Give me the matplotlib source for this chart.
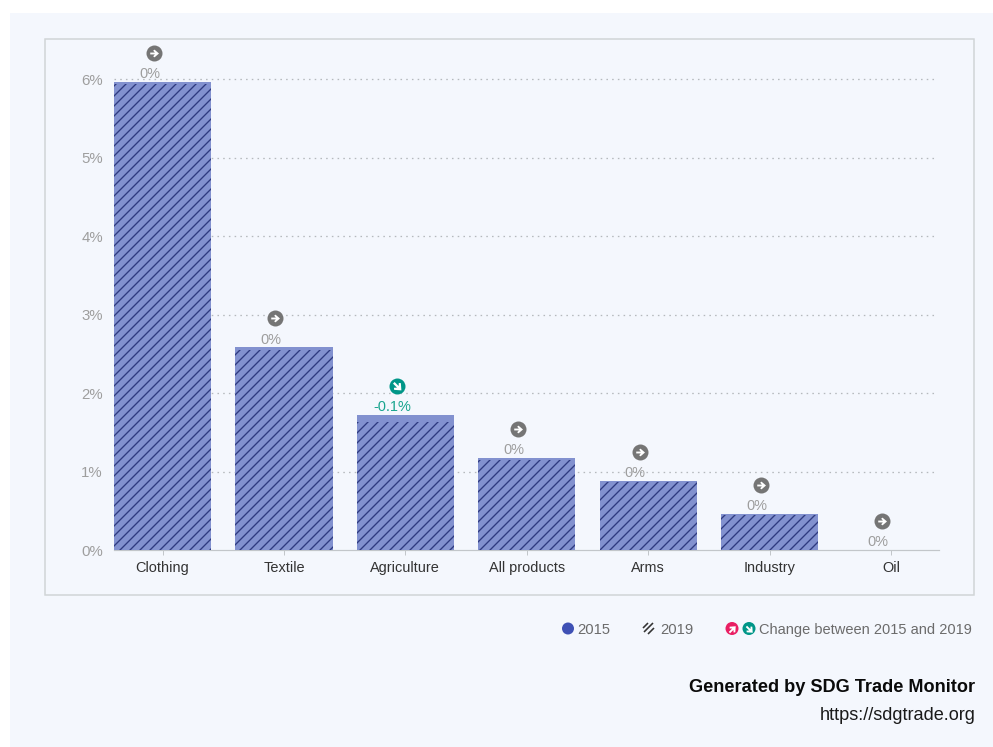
import matplotlib
matplotlib.use("Agg")
import matplotlib.pyplot as plt
from matplotlib.patches import Rectangle, Circle
from matplotlib.path import Path
from matplotlib.transforms import Affine2D, ScaledTranslation

plt.rcParams['font.family'] = ['Liberation Sans', 'DejaVu Sans']
plt.rcParams['hatch.linewidth'] = 0.8

categories = ["Clothing", "Textile", "Agriculture", "All products", "Arms", "Industry", "Oil"]
values_2015 = [5.96, 2.58, 1.72, 1.17, 0.88, 0.46, 0.0]
values_2019 = [5.94, 2.55, 1.63, 1.15, 0.87, 0.45, 0.0]
change_labels = ["0%", "0%", "-0.1%", "0%", "0%", "0%", "0%"]
change_dirs = [0, 0, -1, 0, 0, 0, 0]
y_ticks = [0, 1, 2, 3, 4, 5, 6]
y_tick_labels = ["0%", "1%", "2%", "3%", "4%", "5%", "6%"]

DPI = 120
W, H = 993, 747
BG = "#f4f7fd"
BAR = "#8291cf"
HATCH = "#2f3a80"
GREY_ICON = "#757575"
TEAL = "#009688"
PINK = "#e91e63"
GREY_TEXT = "#9e9e9e"

def pt(px):
    return px * 72 / DPI

ARROW = Path(
    [(-0.55, 0.12), (0.05, 0.12), (-0.17, 0.36), (0.0, 0.5), (0.58, 0.0), (0.0, -0.5),
     (-0.17, -0.36), (0.05, -0.12), (-0.55, -0.12), (-0.55, 0.12)],
    [Path.MOVETO] + [Path.LINETO] * 8 + [Path.CLOSEPOLY])

def arrow(deg):
    return ARROW.transformed(Affine2D().rotate_deg(deg))

fig = plt.figure(figsize=(W / DPI, H / DPI), dpi=DPI, facecolor="white")

# page furniture, in pixel coordinates
bg = fig.add_axes([0, 0, 1, 1])
bg.set_xlim(0, W)
bg.set_ylim(H, 0)
bg.axis("off")
bg.add_patch(Rectangle((10, 13), W - 10, H - 13, fc=BG, ec="none"))
bg.add_patch(Rectangle((45, 39), 929, 556, fc=BG, ec="#d0d4d6", lw=pt(1.5)))

# chart
L, R, T, B = 114, 939, 79, 550
ax = fig.add_axes([L / W, 1 - B / H, (R - L) / W, (B - T) / H])
ax.patch.set_alpha(0)
ax.set_xlim(-0.4, 6.396)
ax.set_ylim(0, 6)
for s in ("top", "left", "right"):
    ax.spines[s].set_visible(False)
ax.spines["bottom"].set_color("#c2c6ca")
ax.spines["bottom"].set_linewidth(pt(1.2))
ax.spines["bottom"].set_zorder(1)
ax.set_yticks(y_ticks, y_tick_labels)
ax.set_xticks(range(len(categories)), categories)
ax.tick_params(axis="y", length=0, pad=pt(11), labelsize=pt(15), labelcolor=GREY_TEXT)
ax.tick_params(axis="x", length=pt(5), width=pt(1), color="#c2c6ca", pad=pt(6),
               labelsize=pt(14.5), labelcolor="#333333")
for y in y_ticks[1:]:
    ax.plot([-0.4, 6.36], [y, y], color="#b5b9bd", lw=pt(1.3), ls=(0, (1.2, 3.2)), zorder=1, clip_on=False)

ax.bar(range(7), values_2015, width=0.8, color=BAR, lw=0, zorder=2)
ax.bar(range(7), values_2019, width=0.8, color=BAR, edgecolor=HATCH, hatch="////", lw=0, zorder=3)

def offset(dx, dy):
    return ax.transData + ScaledTranslation(dx / DPI, dy / DPI, fig.dpi_scale_trans)

for i, (v, lab, d) in enumerate(zip(values_2015, change_labels, change_dirs)):
    col = TEAL if d < 0 else GREY_ICON
    tr = offset(-8.5, 29)
    ax.plot([i], [v], marker="o", ms=pt(16), color=col, mew=0, transform=tr, clip_on=False, zorder=5)
    ax.plot([i], [v], marker=arrow(-45 if d < 0 else 0), ms=pt(9), color="white", mew=0,
            transform=tr, clip_on=False, zorder=6)
    ax.annotate(lab, (i, v), xytext=(pt(-13), pt(7.7)), textcoords="offset points",
                ha="center", va="center", fontsize=pt(14.5),
                color="#1aa58f" if d < 0 else GREY_TEXT, zorder=6, annotation_clip=False)

# legend, in pixel coordinates
top = fig.add_axes([0, 0, 1, 1])
top.set_xlim(0, W)
top.set_ylim(H, 0)
top.axis("off")
LEG = "#6b6b6b"
top.add_patch(Circle((568, 628.5), 6, fc="#3f51b5", ec="none"))
top.text(577, 629.7, "2015", fontsize=pt(14.7), color=LEG, va="center", ha="left")
for x0, y0, x1, y1 in [(643, 628, 648, 623), (644, 632, 653, 623), (648, 634, 654, 628)]:
    top.plot([x0, x1], [y0, y1], color="#333333", lw=pt(1.6), solid_capstyle="butt")
top.text(660, 629.7, "2019", fontsize=pt(14.7), color=LEG, va="center", ha="left")
top.add_patch(Circle((732, 628.5), 6.5, fc=PINK, ec="none"))
top.add_patch(Circle((749, 628.5), 6.5, fc=TEAL, ec="none"))
top.plot([732], [628.5], marker=arrow(45), ms=pt(7.5), color="white", mew=0)
top.plot([749], [628.5], marker=arrow(-45), ms=pt(7.5), color="white", mew=0)
top.text(759, 629.7, "Change between 2015 and 2019", fontsize=pt(14.65), color=LEG, va="center", ha="left")
top.text(975.5, 688, "Generated by SDG Trade Monitor", fontsize=pt(18.1), fontweight="bold",
         color="#0a0a0a", va="center", ha="right")
top.text(975.5, 715, "https://sdgtrade.org", fontsize=pt(18.1), color="#1a1a1a", va="center", ha="right")

fig.savefig("out.png", dpi=DPI, facecolor="white")
